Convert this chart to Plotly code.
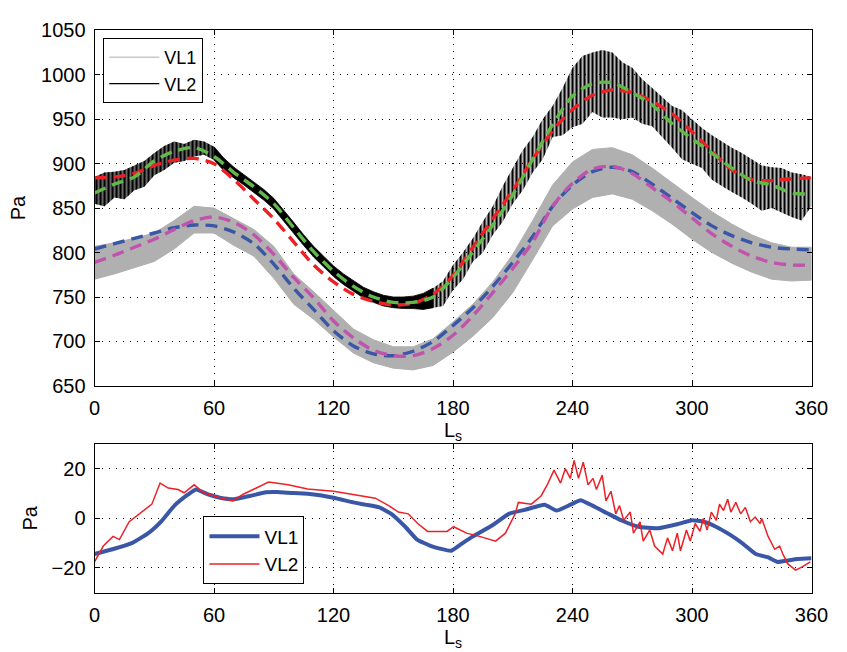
import plotly.graph_objects as go

# ---------------- data ----------------
LS = list(range(0, 361, 10))
LS5 = list(range(0, 361, 5))

# VL1 observed pressure: envelope of the diurnal band (Pa), every 10 deg
VL1_UPPER = [807, 811, 816, 822, 836, 852, 850, 838, 826, 807, 776, 756, 735, 714, 702, 694, 694, 703, 722,
             742, 767, 798, 836, 876, 902, 916, 918, 910, 895, 878, 862, 846, 832, 820, 811, 806, 806]
VL1_LOWER = [770, 776, 783, 790, 804, 822, 822, 808, 796, 771, 742, 725, 705, 687, 676, 670, 668, 673, 688,
             706, 727, 755, 792, 830, 849, 862, 866, 860, 847, 832, 815, 800, 788, 778, 770, 768, 769]

# VL2 observed pressure: envelope of the diurnal band (Pa), every 5 deg
VL2_UPPER = [885, 890, 891, 893, 898, 903, 912, 920, 925, 922, 927, 925, 919, 906, 896, 888, 880, 871, 861,
             848, 834, 820, 807, 796, 785, 776, 768, 761, 756, 752, 750, 750, 751, 754, 760, 768, 786, 800,
             816, 835, 852, 875, 895, 915, 930, 950, 965, 985, 1008, 1021, 1025, 1028, 1025, 1014, 1008, 995,
             985, 975, 965, 960, 950, 940, 932, 925, 918, 912, 905, 898, 896, 895, 890, 888, 885]
VL2_LOWER = [855, 852, 862, 860, 870, 874, 887, 893, 901, 903, 908, 910, 904, 892, 884, 876, 868, 859, 849,
             836, 822, 808, 795, 784, 773, 764, 756, 749, 744, 740, 738, 737, 737, 736, 738, 740, 758, 770,
             790, 800, 820, 835, 855, 870, 890, 905, 930, 932, 941, 945, 958, 952, 952, 950, 952, 945,
             942, 930, 918, 905, 900, 895, 882, 875, 868, 862, 855, 847, 850, 845, 840, 836, 852]

# fitted curves (dashed), every 10 deg
FIT_VL1_A = [804, 810, 816, 822, 828, 831, 830, 823, 810, 787, 760, 736, 712, 695, 686, 684, 689, 700, 718,
             738, 762, 789, 818, 852, 876, 891, 896, 891, 877, 861, 845, 830, 819, 811, 806, 804, 803]
FIT_VL1_B = [789, 797, 806, 815, 826, 836, 840, 834, 820, 798, 772, 749, 723, 704, 690, 684, 684, 692, 707,
             729, 755, 782, 812, 852, 878, 894, 897, 889, 873, 857, 839, 821, 807, 796, 789, 786, 786]
FIT_VL2_A = [884, 885, 889, 898, 904, 906, 900, 882, 860, 838, 812, 786, 767, 753, 745, 741, 743, 753, 774,
             806, 838, 870, 905, 937, 961, 977, 983, 980, 970, 956, 936, 914, 893, 882, 881, 883, 884]
FIT_VL2_B = [867, 877, 885, 903, 914, 918, 908, 890, 874, 855, 828, 801, 779, 762, 750, 744, 744, 750, 772,
             801, 831, 865, 905, 944, 976, 990, 991, 980, 966, 945, 928, 912, 895, 881, 876, 867, 866]

# residuals (lower panel)
RES_VL1_LS = [0, 9, 19, 27, 34, 40, 47, 51, 57, 63, 70, 78, 86, 92, 97, 107, 120, 130, 136, 143,
              149, 156, 162, 169, 179, 185, 190, 200, 208, 216, 226, 232, 239, 244, 250, 258, 265, 273, 283, 293,
              300, 306, 312, 319, 325, 332, 338, 343, 348, 353, 360]
RES_VL1 = [-14.4, -12.5, -9.9, -6, -0.8, 5, 9.6, 11.6, 9.6, 8.3, 7.7, 9, 10.5, 10.6, 10.3, 9.9, 8.3, 6.4, 5.5, 4.4,
           1.8, -3.4, -8.6, -11.2, -13.1, -9.9, -7.3, -2.7, 1.8, 3.4, 5.5, 3.1, 5.5, 7.3, 5.1, 1.8, -1, -3.4, -4, -2.3,
           -0.8, -1.4, -3.4, -6.6, -9.9, -14.4, -15.7, -17.6, -17, -16.4, -16.1]

RES_VL2_LS = [0, 4.4, 9.3, 12.5, 17.4, 24, 28.8, 32.9, 37, 41.9, 45, 50, 54.9, 63, 69.5, 74.4, 82.5, 87.4, 97.2, 107,
              120, 129.8, 141, 147.7, 152.6, 157.5, 162.3, 167.2, 172, 177, 180.3, 183.5, 186.8, 193.3, 201.4, 206.3,
              211.2, 212.8, 219.3, 224.2, 227.5, 230.7, 234, 236.4, 238.9, 240.8, 243, 245.4, 247.8, 250.3, 252,
              254.9, 256.8, 259.3, 261.7, 263.6, 265.7, 269, 270.6, 273.9, 275.5, 278.8, 281.2, 285.3, 287.7, 290.2,
              292.6, 294.2, 297.2, 299.1, 301.6, 304, 305.7, 307.6, 309.7, 312.2, 313.8, 315.8, 317.9, 319.5, 322,
              324.4, 326.8, 329.3, 331.7, 334.2, 335, 338.2, 341.5, 344, 345.6, 348, 352, 355.3, 359.4]
RES_VL2 = [-17.6, -11.2, -7.3, -8.6, -1.4, 2.5, 5.7, 14.2, 12.2, 11.6, 10.3, 13.5, 10.3, 8.3, 7, 9.6, 12.9, 14.6, 13.5,
           11.8, 10.9, 9.6, 8.1, 5.1, 2.5, 1.8, -2.1, -5.3, -5.3, -5.3, -3.4, -4.7, -6, -7.3, -9.2, -6, 1.8, 6.4, 5.7,
           9, 13.8, 19.4, 14.2, 20, 16.1, 23.3, 16.1, 22.6, 13.5, 16.1, 11.6, 17.4, 7, 10.9, 1.8, 5.1, -0.8, 2.5, -6,
           -1.4, -9.2, -4.7, -11.2, -14.4, -7.9, -13.1, -6, -13.1, -4.7, -9.2, -2.1, -5.3, -0.1, -4.7, 2.5, -0.8, 5.7,
           3.1, 7.7, 2.5, 6.4, 1.8, 4.4, -1.4, 0.5, -2.1, -0.1, -7.3, -12.5, -11.2, -14.4, -18.3, -20.9, -19.6, -17.6]

X_TICKS = [0, 60, 120, 180, 240, 300, 360]
Y_TICKS_TOP = [650, 700, 750, 800, 850, 900, 950, 1000, 1050]
Y_TICKS_BOTTOM = [-20, 0, 20]

# ---------------- styling ----------------
FONT = "Liberation Sans, Arial, Helvetica, sans-serif"
FS = 20
RED = "rgb(236,33,39)"
GREEN = "rgb(98,184,72)"
BLUE = "rgb(58,86,166)"
MAGENTA = "rgb(192,84,172)"
GRAY = "rgb(176,176,176)"
DASH = "12px,7px"


def band(xs, up, lo):
    return list(xs) + list(xs)[::-1], list(up) + list(lo)[::-1]


fig = go.Figure()

# VL1 band
bx, by = band(LS, VL1_UPPER, VL1_LOWER)
fig.add_trace(go.Scatter(x=bx, y=by, fill="toself", fillcolor=GRAY, mode="lines",
                         line=dict(color=GRAY, width=1), showlegend=False, hoverinfo="skip",
                         xaxis="x", yaxis="y"))

# VL2 band: dense (solid) in the middle, spiky (striped texture) elsewhere
segments = [(0, 13, "rgba(0,0,0,0.5)", 0.6), (12, 35, "black", None), (34, 73, "rgba(0,0,0,0.28)", 0.5)]
for i0, i1, col, sol in segments:
    bx, by = band(LS5[i0:i1], VL2_UPPER[i0:i1], VL2_LOWER[i0:i1])
    solid = sol is None
    fig.add_trace(go.Scatter(x=bx, y=by, fill="toself", fillcolor=col, mode="lines" if solid else "none",
                             line=dict(color=col, width=0.8), showlegend=False, hoverinfo="skip",
                             xaxis="x", yaxis="y"))
    if not solid:
        fig.add_trace(go.Scatter(x=bx, y=by, fill="toself", fillcolor="rgba(0,0,0,0)", mode="none",
                                 fillpattern=dict(shape="|", fgcolor="black", bgcolor="rgba(0,0,0,0)",
                                                  size=4, solidity=sol, fgopacity=1),
                                 showlegend=False, hoverinfo="skip", xaxis="x", yaxis="y"))

# dashed fits
for ys, col in [(FIT_VL1_A, BLUE), (FIT_VL1_B, MAGENTA), (FIT_VL2_A, RED), (FIT_VL2_B, GREEN)]:
    fig.add_trace(go.Scatter(x=LS, y=ys, mode="lines",
                             line=dict(color=col, width=3.4, dash=DASH, shape="spline", smoothing=0.8),
                             showlegend=False, hoverinfo="skip", xaxis="x", yaxis="y"))

# legend entries for the top panel
fig.add_trace(go.Scatter(x=[None], y=[None], mode="lines", name="VL1",
                         line=dict(color="rgb(200,200,200)", width=1.5), legend="legend",
                         xaxis="x", yaxis="y"))
fig.add_trace(go.Scatter(x=[None], y=[None], mode="lines", name="VL2",
                         line=dict(color="black", width=1.2), legend="legend",
                         xaxis="x", yaxis="y"))

# lower panel
fig.add_trace(go.Scatter(x=RES_VL1_LS, y=RES_VL1, mode="lines", name="VL1",
                         line=dict(color=BLUE, width=4, shape="spline", smoothing=0.4),
                         legend="legend2", xaxis="x2", yaxis="y2"))
fig.add_trace(go.Scatter(x=RES_VL2_LS, y=RES_VL2, mode="lines", name="VL2",
                         line=dict(color=RED, width=1.5),
                         legend="legend2", xaxis="x2", yaxis="y2"))

XD = [91 / 847, 828 / 847]
axis_common = dict(showline=True, linecolor="black", linewidth=1, mirror="ticks", ticks="inside",
                   ticklen=5, tickcolor="black", showgrid=True, gridcolor="black", gridwidth=1,
                   griddash="1px,6px", zeroline=False, ticklabelstandoff=4,
                   tickfont=dict(family=FONT, size=FS, color="black"))

fig.update_layout(
    width=847, height=652,
    margin=dict(l=0, r=0, t=0, b=0),
    paper_bgcolor="white", plot_bgcolor="white",
    font=dict(family=FONT, size=FS, color="black"),
    xaxis=dict(domain=XD, range=[0, 360], tickvals=X_TICKS, anchor="y",
               title=dict(text="L<sub>s</sub>", font=dict(size=FS), standoff=0), **axis_common),
    yaxis=dict(domain=[1 - 388 / 652, 1 - 20 / 652], range=[650, 1050], tickvals=Y_TICKS_TOP, anchor="x",
               title=dict(text="Pa", font=dict(size=FS), standoff=10), **axis_common),
    xaxis2=dict(domain=XD, range=[0, 360], tickvals=X_TICKS, anchor="y2",
                title=dict(text="L<sub>s</sub>", font=dict(size=FS), standoff=0), **axis_common),
    yaxis2=dict(domain=[1 - 602 / 652, 1 - 448 / 652], range=[-30, 30], tickvals=Y_TICKS_BOTTOM, anchor="x2",
                title=dict(text="Pa", font=dict(size=FS), standoff=8), **axis_common),
    legend=dict(x=100 / 847, y=1 - 28 / 652, xanchor="left", yanchor="top", bgcolor="white",
                bordercolor="black", borderwidth=1, font=dict(family=FONT, size=18), tracegroupgap=0,
                itemwidth=50),
    legend2=dict(x=203 / 847, y=1 - 523 / 652, xanchor="left", yanchor="top", bgcolor="white",
                 bordercolor="black", borderwidth=1, font=dict(family=FONT, size=19), tracegroupgap=0,
                 itemwidth=50),
    showlegend=True,
)

fig.write_html("out.html")
